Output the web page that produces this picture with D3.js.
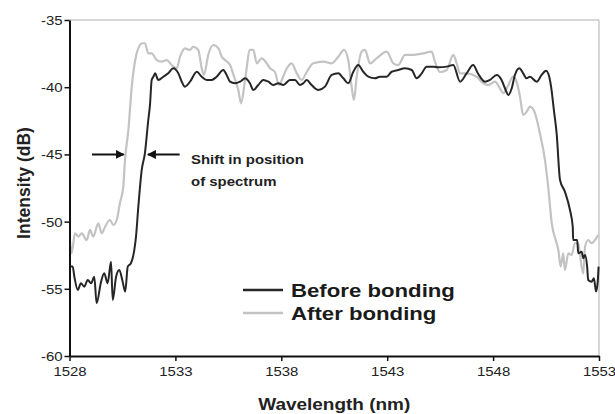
<!DOCTYPE html>
<html><head><meta charset="utf-8">
<script src="https://cdn.jsdelivr.net/npm/d3@7"></script>
<style>
html,body{margin:0;padding:0;background:#fff;}
svg{display:block;}
text{font-family:"Liberation Sans",Arial,sans-serif;}
</style></head>
<body><svg id="c" width="615" height="414"></svg>
<script>
// ---- data ----
const xTicks = [1528, 1533, 1538, 1543, 1548, 1553];
const yTicks = [-60, -55, -50, -45, -40, -35];
const seriesNames = ["Before bonding", "After bonding"];
const beforeWl = [1528.02,1528.15,1528.23,1528.39,1528.54,1528.70,1528.86,1529.02,1529.17,1529.28,1529.49,1529.64,1529.80,1529.96,1530.04,1530.20,1530.35,1530.51,1530.63,1530.75,1530.90,1531.06,1531.14,1531.25,1531.41,1531.56,1531.72,1531.80,1531.88,1531.96,1532.04,1532.19,1532.43,1532.66,1532.90,1533.14,1533.30,1533.45,1533.69,1534.01,1534.24,1534.48,1534.71,1534.95,1535.26,1535.42,1535.58,1535.81,1536.05,1536.29,1536.52,1536.68,1536.91,1537.15,1537.39,1537.62,1537.86,1538.09,1538.41,1538.65,1538.88,1539.04,1539.20,1539.43,1539.75,1540.06,1540.38,1540.69,1540.93,1541.16,1541.40,1541.63,1541.87,1542.11,1542.42,1542.66,1542.97,1543.21,1543.52,1543.84,1544.16,1544.39,1544.63,1544.86,1545.18,1545.41,1545.81,1546.12,1546.44,1546.75,1547.06,1547.30,1547.62,1547.85,1548.17,1548.40,1548.56,1548.72,1548.88,1549.03,1549.24,1549.42,1549.58,1549.74,1550.06,1550.29,1550.50,1550.65,1550.76,1550.87,1551.00,1551.16,1551.39,1551.63,1551.76,1551.78,1551.97,1552.02,1552.18,1552.26,1552.34,1552.44,1552.49,1552.65,1552.76,1552.86,1552.94,1552.98];
const beforeDb = [-53.35,-53.35,-54.10,-55.09,-54.59,-54.84,-54.34,-54.59,-54.10,-56.08,-54.47,-53.85,-54.59,-52.98,-55.83,-54.10,-53.60,-54.47,-55.21,-53.35,-53.10,-52.11,-51.12,-48.89,-46.16,-44.92,-42.44,-41.32,-39.46,-39.22,-38.97,-39.46,-39.22,-38.97,-38.59,-38.97,-39.59,-39.96,-39.59,-38.85,-39.22,-39.46,-39.46,-39.22,-38.72,-39.09,-39.59,-39.71,-39.59,-39.34,-39.71,-40.21,-39.84,-39.46,-39.59,-39.84,-39.71,-39.84,-39.46,-39.46,-39.84,-39.71,-39.46,-39.84,-40.21,-39.96,-39.09,-38.97,-39.34,-39.71,-38.85,-38.35,-38.85,-39.22,-39.34,-39.22,-39.22,-38.85,-38.72,-38.59,-38.72,-39.34,-38.97,-38.47,-38.47,-38.52,-38.47,-38.35,-39.59,-38.97,-38.35,-39.02,-39.59,-39.46,-39.09,-39.46,-40.08,-40.58,-40.08,-39.09,-38.59,-38.97,-39.34,-39.22,-39.59,-39.09,-38.77,-39.22,-40.21,-41.70,-43.43,-46.90,-47.77,-49.14,-50.38,-51.37,-51.37,-52.36,-52.24,-52.73,-52.48,-53.35,-54.34,-54.47,-54.22,-55.21,-54.47,-53.35];
const afterWl = [1528.02,1528.10,1528.26,1528.42,1528.58,1528.81,1528.97,1529.12,1529.36,1529.52,1529.68,1529.91,1530.07,1530.23,1530.38,1530.54,1530.62,1530.78,1530.94,1531.17,1531.33,1531.41,1531.56,1531.72,1531.88,1532.12,1532.35,1532.59,1532.83,1533.06,1533.22,1533.45,1533.69,1533.84,1534.08,1534.24,1534.35,1534.55,1534.79,1535.03,1535.19,1535.34,1535.58,1535.77,1535.97,1536.10,1536.29,1536.52,1536.68,1536.84,1537.07,1537.31,1537.47,1537.70,1537.89,1538.08,1538.27,1538.49,1538.73,1538.96,1539.20,1539.51,1539.98,1540.38,1540.69,1540.96,1541.16,1541.32,1541.43,1541.56,1541.79,1541.95,1542.19,1542.50,1542.98,1543.29,1543.52,1543.84,1544.23,1544.70,1545.10,1545.26,1545.49,1545.81,1546.12,1546.28,1546.44,1546.75,1547.22,1547.54,1547.77,1548.09,1548.32,1548.48,1548.72,1548.95,1549.11,1549.27,1549.42,1549.58,1549.74,1549.98,1550.21,1550.45,1550.60,1550.77,1551.00,1551.08,1551.19,1551.31,1551.39,1551.55,1551.71,1551.86,1552.02,1552.18,1552.26,1552.34,1552.49,1552.65,1552.81,1552.97];
const afterDb = [-51.37,-52.36,-50.87,-51.12,-50.87,-51.37,-50.62,-51.12,-50.13,-50.87,-50.38,-49.88,-50.25,-49.88,-48.64,-47.40,-45.42,-43.18,-39.96,-37.48,-36.86,-36.73,-36.73,-37.48,-37.48,-37.98,-38.10,-37.98,-38.35,-38.59,-37.73,-37.11,-37.23,-36.99,-37.23,-38.57,-39.09,-37.60,-36.86,-37.11,-37.73,-37.98,-38.35,-39.22,-40.21,-41.20,-39.46,-37.23,-37.23,-38.22,-37.85,-38.22,-38.59,-38.87,-39.84,-39.24,-38.57,-38.22,-38.97,-39.46,-38.87,-38.22,-38.10,-38.22,-37.73,-37.23,-37.98,-39.96,-40.95,-39.22,-37.36,-37.23,-38.22,-37.85,-37.36,-38.22,-38.35,-37.60,-37.60,-37.48,-37.36,-38.12,-38.87,-38.72,-37.60,-38.22,-38.97,-38.97,-39.22,-39.71,-39.84,-39.59,-40.08,-40.45,-39.84,-39.22,-39.61,-40.71,-42.07,-41.84,-41.45,-41.94,-43.43,-45.42,-47.40,-50.13,-51.61,-52.11,-53.35,-52.36,-53.60,-52.36,-52.48,-51.61,-51.61,-53.35,-53.85,-51.87,-51.37,-51.61,-51.37,-50.99];
const annotationLines = ["Shift in position", "of spectrum"];
const xTitle = "Wavelength (nm)";
const yTitle = "Intensity (dB)";

// ---- chart ----
const svg = d3.select("#c");
const L = 69.5, R = 599, T = 20, B = 356;
const x = d3.scaleLinear().domain([1528, 1553]).range([L, R]);
const y = d3.scaleLinear().domain([-60, -35]).range([B, T]);
const SX = 1.15; // horizontal stretch of lettering
const colors = ["#262626", "#c3c3c3"];

// frame (top/right light grey)
svg.append("line").attr("x1", L).attr("x2", R).attr("y1", T).attr("y2", T).attr("stroke", "#c8c8c8").attr("stroke-width", 1.5);
svg.append("line").attr("x1", R).attr("x2", R).attr("y1", T).attr("y2", B).attr("stroke", "#c8c8c8").attr("stroke-width", 1.5);

// series
const line = d3.line().x(d => x(d[0])).y(d => y(d[1])).curve(d3.curveMonotoneX);
const after = afterWl.map((w, i) => [w, afterDb[i]]);
const before = beforeWl.map((w, i) => [w, beforeDb[i]]);
svg.append("path").datum(after).attr("d", line).attr("fill", "none").attr("stroke", colors[1]).attr("stroke-width", 2.2).attr("stroke-linejoin", "round");
svg.append("path").datum(before).attr("d", line).attr("fill", "none").attr("stroke", colors[0]).attr("stroke-width", 2).attr("stroke-linejoin", "round");

// axes
const fmt = d => String(d);
const gy = svg.append("g").attr("transform", `translate(${L},0)`)
  .call(d3.axisLeft(y).tickValues(yTicks).tickSize(5).tickSizeOuter(0).tickFormat(fmt));
const gx = svg.append("g").attr("transform", `translate(0,${B})`)
  .call(d3.axisBottom(x).tickValues(xTicks).tickSize(5).tickSizeOuter(0).tickFormat(fmt));
[gx, gy].forEach(g => {
  g.select(".domain").attr("stroke", "#111").attr("stroke-width", 2);
  g.selectAll(".tick line").attr("stroke", "#111").attr("stroke-width", 1.5);
  g.selectAll(".tick text").attr("fill", "#222").attr("font-size", 13)
   .attr("font-family", '"Liberation Sans",Arial,sans-serif');
});
gy.selectAll(".tick text").attr("dy", "0.35em").attr("transform", `scale(${SX},1)`).attr("x", -7 / SX);
gx.selectAll(".tick text").attr("y", 11).attr("transform", `scale(${SX},1)`);

// titles
svg.append("text").attr("transform", `translate(${(L + R) / 2},410) scale(${SX},1)`)
  .attr("text-anchor", "middle").attr("font-weight", "bold").attr("font-size", 16.5).attr("fill", "#222").text(xTitle);
svg.append("text").attr("transform", `translate(30,183) rotate(-90)`)
  .attr("text-anchor", "middle").attr("font-weight", "bold").attr("font-size", 17.5).attr("fill", "#222").text(yTitle);

// arrows
const defs = svg.append("defs");
defs.append("marker").attr("id", "ah").attr("viewBox", "0 0 10 10").attr("refX", 9).attr("refY", 5)
  .attr("markerWidth", 4.5).attr("markerHeight", 4.5).attr("markerUnits", "strokeWidth").attr("orient", "auto")
  .append("path").attr("d", "M0,0 L10,5 L0,10 Z").attr("fill", "#111");
const arrowY = y(-45);
svg.append("line").attr("x1", x(1529.06)).attr("x2", x(1530.56)).attr("y1", arrowY).attr("y2", arrowY)
  .attr("stroke", "#111").attr("stroke-width", 2).attr("marker-end", "url(#ah)");
svg.append("line").attr("x1", x(1533.2)).attr("x2", x(1531.7)).attr("y1", arrowY).attr("y2", arrowY)
  .attr("stroke", "#111").attr("stroke-width", 2).attr("marker-end", "url(#ah)");
annotationLines.forEach((t, i) => {
  svg.append("text").attr("transform", `translate(191,${164 + i * 22}) scale(${SX},1)`)
    .attr("font-weight", "bold").attr("font-size", 13).attr("fill", "#222").text(t);
});

// legend
seriesNames.forEach((n, i) => {
  const ly = 290 + i * 23;
  svg.append("line").attr("x1", 243).attr("x2", 283).attr("y1", ly).attr("y2", ly)
    .attr("stroke", colors[i]).attr("stroke-width", 2.5);
  svg.append("text").attr("transform", `translate(291,${ly + 7}) scale(1.2,1)`)
    .attr("font-weight", "bold").attr("font-size", 18.5).attr("fill", "#1a1a1a").text(n);
});
</script></body></html>
